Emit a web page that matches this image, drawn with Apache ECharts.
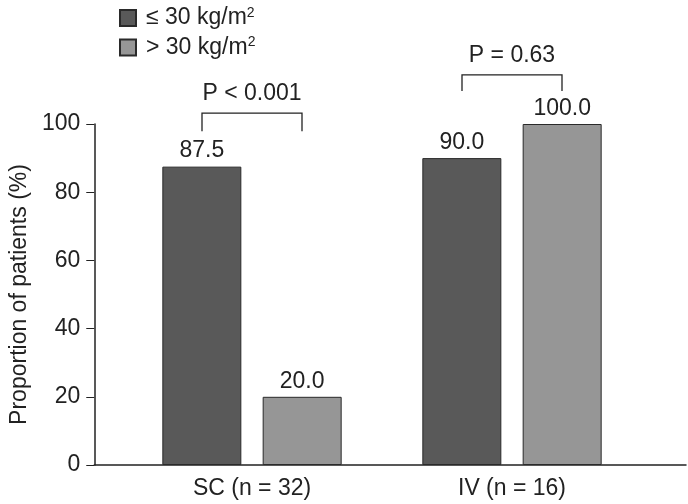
<!DOCTYPE html>
<html><head><meta charset="utf-8">
<script src="https://cdn.jsdelivr.net/npm/echarts@6/dist/echarts.min.js"></script>
<style>html,body{margin:0;padding:0;background:#fff}#c{width:688px;height:504px}</style>
</head><body><div id="c"></div>
<script>
const categories = ['SC (n = 32)', 'IV (n = 16)'];
const seriesNames = ['≤ 30 kg/m{sup|2}', '> 30 kg/m{sup|2}'];
const lowBMI = [87.5, 90.0];
const highBMI = [20.0, 100.0];
const pLabels = ['P < 0.001', 'P = 0.63'];
const bracketTop = [103.2, 114.4];
const bracketLeg = [97.9, 109.7];
const yTicks = [0, 20, 40, 60, 80, 100];

const chart = echarts.init(document.getElementById('c'));
const txt = '#222';
const font = 'Liberation Sans, Arial, sans-serif';
const FS = 23;
const BAR_W = 79, HALF = 50;

chart.setOption({
  animation: false,
  textStyle: { fontFamily: font },
  legend: {
    left: 114, top: 1, orient: 'vertical', itemWidth: 16, itemHeight: 16, itemGap: 6,
    icon: 'rect',
    textStyle: { fontSize: FS, color: txt, fontFamily: font, padding: [0, 0, 0, 5],
      rich: { sup: { fontSize: 14, verticalAlign: 'top', padding: [0, 0, 10, 0], color: txt } } },
    data: seriesNames
  },
  grid: [
    { left: 82, right: 2, top: 124, bottom: 39 },
    { left: 122, width: 520, top: 124, bottom: 39 }
  ],
  xAxis: [
    { type: 'category', gridIndex: 0, data: [''], axisLine: { lineStyle: { color: '#222', width: 1.5 } }, axisTick: { show: false }, axisLabel: { show: false } },
    { type: 'category', gridIndex: 1, data: categories, axisLine: { show: false }, axisTick: { show: false },
      axisLabel: { fontSize: FS, color: txt, margin: 12, fontFamily: font } }
  ],
  yAxis: [
    { type: 'value', gridIndex: 0, min: yTicks[0], max: yTicks[yTicks.length-1], interval: 20,
      name: 'Proportion of patients (%)', nameLocation: 'middle', nameGap: 58,
      nameTextStyle: { fontSize: FS, color: txt, fontFamily: font },
      axisLine: { show: true, lineStyle: { color: '#222', width: 1.5 } },
      axisTick: { show: true, length: 8, lineStyle: { color: '#222' } },
      axisLabel: { fontSize: FS, color: txt, margin: 14, fontFamily: font },
      splitLine: { show: false } },
    { type: 'value', gridIndex: 1, min: 0, max: 100, show: false }
  ],
  series: [
    { name: seriesNames[0], type: 'bar', xAxisIndex: 1, yAxisIndex: 1, data: lowBMI, barWidth: BAR_W, barGap: '27%',
      itemStyle: { color: '#595959', borderColor: '#2a2a2a', borderWidth: 1 },
      label: { show: true, position: 'top', distance: 4, fontSize: FS, color: txt, fontFamily: font, formatter: p => p.value.toFixed(1) } },
    { name: seriesNames[1], type: 'bar', xAxisIndex: 1, yAxisIndex: 1, data: highBMI, barWidth: BAR_W,
      itemStyle: { color: '#969696', borderColor: '#2a2a2a', borderWidth: 1 },
      label: { show: true, position: 'top', distance: 4, fontSize: FS, color: txt, fontFamily: font, formatter: p => p.value.toFixed(1) } },
    { type: 'custom', xAxisIndex: 1, yAxisIndex: 1, clip: false, silent: true,
      data: categories.map((c, i) => [i, bracketTop[i], bracketLeg[i]]),
      renderItem: (params, api) => {
        const i = api.value(0);
        const top = api.coord([i, api.value(1)]);
        const leg = api.coord([i, api.value(2)]);
        const x0 = top[0] - HALF, x1 = top[0] + HALF;
        return { type: 'group', children: [
          { type: 'polyline', shape: { points: [[x0, leg[1]], [x0, top[1]], [x1, top[1]], [x1, leg[1]]] },
            style: { stroke: '#222', lineWidth: 1.3, fill: null } },
          { type: 'text', style: { text: pLabels[i], x: top[0], y: top[1] - 19, textAlign: 'center', textVerticalAlign: 'middle',
            font: FS + 'px ' + font, fill: txt } }
        ] };
      } }
  ]
});
</script></body></html>
